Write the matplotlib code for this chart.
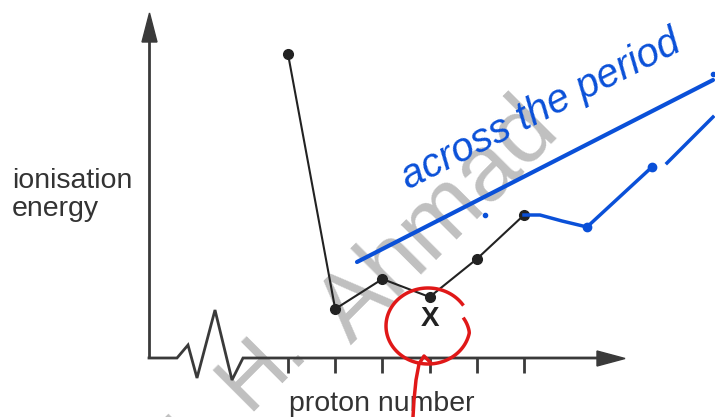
import numpy as np
import matplotlib.pyplot as plt
from matplotlib.patches import Polygon

# sketch of first ionisation energy across a period (arbitrary units)
proton = [1, 2, 3, 4, 5, 6]
energy = [304, 49, 79, 61, 99, 143]
x_label = "proton number"
y_label = ["ionisation", "energy"]
marked = "X"
note = "across the period"

plt.rcParams['font.family'] = ['Liberation Sans', 'DejaVu Sans']

fig = plt.figure(figsize=(7.15, 4.17), dpi=100)
ax = fig.add_axes([0, 0, 1, 1])
ax.axis('off')

# map the picture's pixel frame onto data units
step = 47.2
ax.set_xlim((0 - 288) / step + 1, (715 - 288) / step + 1)
ax.set_ylim(358 - 417, 358 - 0)


def px(x):
    return (np.asarray(x, dtype=float) - 288) / step + 1


def py(y):
    return 358 - np.asarray(y, dtype=float)


axis_col = '#3a3a3a'

# axes with a broken x axis
ax.plot(px([149, 149]), py([358, 38]), color=axis_col, lw=2, solid_capstyle='butt')
ax.add_patch(Polygon(np.column_stack([px([142, 157, 149.5]), py([42, 42, 13])]),
                     closed=True, color=axis_col))
ax.plot(px([149, 177, 188, 197, 215, 232, 243, 600]),
        py([358, 358, 345, 378, 310, 380, 358, 358]),
        color=axis_col, lw=2, solid_joinstyle='miter')
ax.add_patch(Polygon(np.column_stack([px([597, 597, 625]), py([351, 366, 358.5])]),
                     closed=True, color=axis_col))
ax.vlines(proton, -15, 0, color=axis_col, lw=2)

# watermark
wm = dict(rotation=45, color='#c0c0c0', ha='center', va='center', zorder=1)
ax.text(px(440), py(222), "Ahmad", fontsize=68, **wm)
ax.text(px(222), py(413), "M. H.", fontsize=62, **wm)

# data
ax.plot(proton, energy, color='#222222', lw=1.5, marker='o', ms=7, zorder=3)

ax.text(px(12), py(188), y_label[0], fontsize=20.5, color='#333333', ha='left', va='baseline')
ax.text(px(12), py(216), y_label[1], fontsize=20.5, color='#333333', ha='left', va='baseline')
ax.text(px(382), py(411), x_label, fontsize=20.5, color='#333333', ha='center', va='baseline')
ax.text(proton[3], energy[3] - 22, marked, fontsize=20, fontweight='bold',
        color='#222222', ha='center', va='center', zorder=4)

# hand-drawn annotations
blue = '#0a50d8'
red = '#e01818'
ax.text(px(541), py(110), note, rotation=27, fontsize=29, style='italic',
        color=blue, ha='center', va='center', zorder=5)
ax.plot(px([357, 713]), py([262, 80]), color=blue, lw=3, solid_capstyle='round', zorder=5)
ax.plot(px([524, 540, 562, 587]), py([215, 215, 221, 227]), color=blue, lw=2.5, zorder=5)
ax.plot(px([587, 652]), py([227, 167]), color=blue, lw=2.5, marker='o', ms=6, zorder=5)
ax.plot(px([667, 690, 713]), py([163, 140, 117]), color=blue, lw=2.5, zorder=5)
ax.plot(px([485, 713]), py([215, 74]), color=blue, lw=0, marker='o', ms=3, zorder=5)

t = np.linspace(np.radians(35), np.radians(372), 120)
r = 1 - 0.12 * np.clip((t - np.radians(350)) / np.radians(22), 0, 1)
ax.plot(px(428 + 42 * r * np.cos(t)), py(326 - 38 * r * np.sin(t)),
        color=red, lw=2.5, zorder=5)
ax.plot(px([430, 424, 419, 416, 414, 413]), py([362, 356, 364, 380, 400, 417]),
        color=red, lw=2.5, zorder=5)

fig.savefig('out.png', dpi=100)
